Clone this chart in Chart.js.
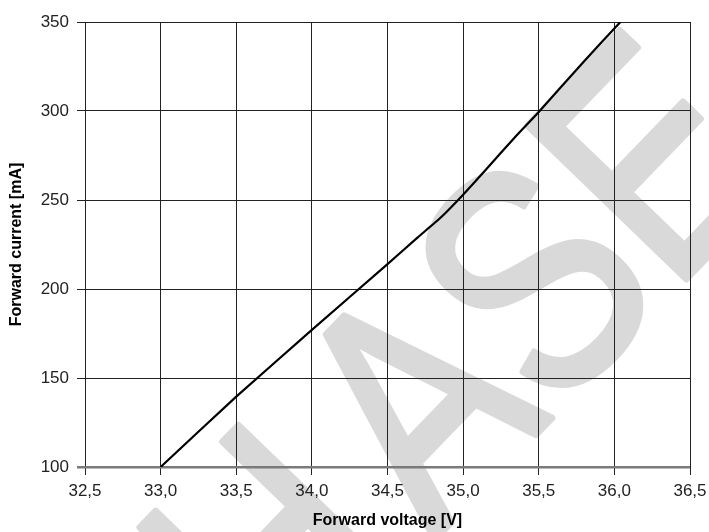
<!DOCTYPE html>
<html>
<head>
<meta charset="utf-8">
<script src="https://cdn.jsdelivr.net/npm/chart.js@4"></script>
<style>
  html, body { margin: 0; padding: 0; background: #fff; }
  #wrap { width: 709px; height: 532px; }
</style>
</head>
<body>
<div id="wrap"><canvas id="myChart" width="709" height="532"></canvas></div>
<script>
// forward voltage [V] vs forward current [mA]
const voltage = [33.0, 33.5, 34.0, 34.5, 34.7, 34.85, 35.0, 35.15, 35.35, 35.5, 35.8, 36.04];
const current = [100, 139.5, 177, 214, 229, 240, 253, 267, 286, 299.5, 328, 350];

const xMin = 32.5, xMax = 36.5, xStep = 0.5;
const yMin = 100, yMax = 350, yStep = 50;

const watermarkHead = "PURCH";
const watermarkTail = "ASE";

const tickFont = { family: "'Liberation Sans', Arial, sans-serif", size: 17 };
const titleFont = { family: "'Liberation Sans', Arial, sans-serif", size: 16, weight: "bold" };

// big grey diagonal watermark, painted under the grid
const watermark = {
  id: "watermark",
  beforeDraw(chart) {
    const ctx = chart.ctx;
    ctx.save();
    ctx.font = "320px 'Liberation Sans', Arial, sans-serif";
    ctx.fillStyle = "#d9d9d9";
    ctx.strokeStyle = "#d9d9d9";
    ctx.lineJoin = "round";
    ctx.textBaseline = "alphabetic";
    ctx.translate(434, 540);
    ctx.rotate(-46 * Math.PI / 180);
    ctx.scale(0.8, 1);
    ctx.lineWidth = 7;
    const pre = ctx.measureText(watermarkHead).width + 40;
    ctx.fillText(watermarkHead, -pre, 0);
    ctx.strokeText(watermarkHead, -pre, 0);
    ctx.fillText(watermarkTail, 0, 0);
    ctx.strokeText(watermarkTail, 0, 0);
    ctx.restore();
  }
};

const ctx = document.getElementById("myChart").getContext("2d");
const myChart = new Chart(ctx, {
  type: "scatter",
  data: {
    datasets: [{
      data: voltage.map((v, i) => ({ x: v, y: current[i] })),
      showLine: true,
      borderColor: "#000",
      borderWidth: 2.2,
      pointRadius: 0,
      tension: 0.15,
    }]
  },
  options: {
    responsive: false,
    animation: false,
    layout: { padding: { top: 22, right: 0, left: 0, bottom: 0 } },
    plugins: { legend: { display: false }, tooltip: { enabled: false } },
    scales: {
      x: {
        type: "linear",
        min: xMin,
        max: xMax,
        afterFit: (s) => { s.height = 65; s.paddingRight = 19; s.paddingLeft = 0; },
        ticks: {
          stepSize: xStep,
          color: "#222",
          font: tickFont,
          padding: 6,
          maxRotation: 0,
          callback: (v) => v.toFixed(1).replace(".", ","),
        },
        grid: { color: "#222", lineWidth: 1, tickLength: 8, drawTicks: true },
        border: { display: false },
        title: { display: true, text: "Forward voltage [V]", color: "#000", font: titleFont, padding: { top: 0, bottom: 2 } },
      },
      y: {
        min: yMin,
        max: yMax,
        afterFit: (s) => { s.width = 85; },
        ticks: { stepSize: yStep, color: "#222", font: tickFont, padding: 8 },
        grid: {
          color: (c) => (c.tick && c.tick.value === yMin ? "#7a7a7a" : "#222"),
          lineWidth: (c) => (c.tick && c.tick.value === yMin ? 2.5 : 1),
          tickLength: 8,
        },
        border: { display: false },
        title: { display: true, text: "Forward current [mA]", color: "#000", font: titleFont, padding: { top: 7, bottom: 0 } },
      },
    },
  },
  plugins: [watermark],
});
</script>
</body>
</html>
